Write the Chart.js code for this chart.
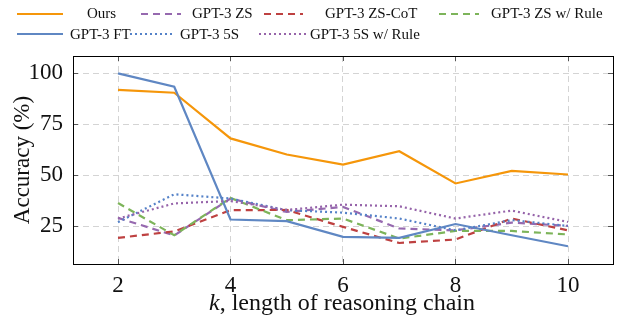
<!DOCTYPE html>
<html>
<head>
<meta charset="utf-8">
<script src="https://cdn.jsdelivr.net/npm/chart.js@4.4.1/dist/chart.umd.min.js"></script>
<style>
  body { margin: 0; background: #fff; }
  #wrap { position: relative; width: 617px; height: 320px; }
  #legend { position: absolute; left: 0; top: 0; width: 617px; height: 50px;
            font-family: "Liberation Serif", "Times New Roman", serif; font-size: 15px; color: #111; }
  .lg { position: absolute; white-space: nowrap; line-height: 1; }
  #xtitle { position: absolute; left: 142px; width: 400px; top: 290px; text-align: center;
            font-family: "Liberation Serif", "Times New Roman", serif; font-size: 24px; line-height: 1; color: #111; }
</style>
</head>
<body>
<div id="wrap">
  <canvas id="chart" width="617" height="320"></canvas>
  <div id="legend"></div>
  <div id="xtitle"><i>k</i>, length of reasoning chain</div>
</div>
<script>
// k, length of reasoning chain
const kValues = [2, 3, 4, 5, 6, 7, 8, 9, 10];

// accuracy (%)
const ours      = [91.9, 90.5, 68.1, 60.2, 55.2, 61.8, 46.0, 52.2, 50.4];
const gpt3ZS    = [29.1, 20.5, 38.6, 32.0, 34.5, 23.9, 23.0, 26.8, 25.2];
const gpt3ZSCoT = [19.3, 22.5, 32.9, 33.0, 24.7, 16.8, 18.5, 28.8, 23.0];
const gpt3ZSRule = [36.4, 20.6, 38.9, 28.0, 28.8, 19.0, 22.7, 22.7, 21.0];
const gpt3FT    = [100, 93.4, 28.3, 27.5, 19.8, 19.3, 26.1, 20.6, 15.2];
const gpt3FiveS = [27.0, 40.7, 38.6, 32.9, 31.7, 28.8, 23.0, 28.0, 25.2];
const gpt3FiveSRule = [28.8, 36.2, 37.4, 33.0, 35.6, 34.8, 28.8, 32.7, 27.1];

const xTicks = [2, 4, 6, 8, 10];
const yTicks = [25, 50, 75, 100];

const serif = "'Liberation Serif', 'Times New Roman', serif";
const DASHED = [7, 5];
const DOTTED = [2, 3];

const series = [
  { label: "Ours", data: ours, color: "rgb(245,150,10)", dash: [] },
  { label: "GPT-3 ZS", data: gpt3ZS, color: "rgb(150,105,175)", dash: DASHED },
  { label: "GPT-3 ZS-CoT", data: gpt3ZSCoT, color: "rgb(190,65,65)", dash: DASHED },
  { label: "GPT-3 ZS w/ Rule", data: gpt3ZSRule, color: "rgb(125,180,90)", dash: DASHED },
  { label: "GPT-3 FT", data: gpt3FT, color: "rgb(95,135,195)", dash: [] },
  { label: "GPT-3 5S", data: gpt3FiveS, color: "rgb(85,130,200)", dash: DOTTED },
  { label: "GPT-3 5S w/ Rule", data: gpt3FiveSRule, color: "rgb(150,100,170)", dash: DOTTED },
];

// legend placement: [center y, sample left, sample right, text left]
const legendPos = [
  [13.5, 17, 63, 87],
  [13.5, 141, 181, 192],
  [13.5, 264, 303, 325],
  [13.5, 439, 479, 491],
  [34, 17, 63, 70],
  [34, 130, 173, 180],
  [34, 259, 306, 310],
];

const legendEl = document.getElementById("legend");
series.forEach((s, i) => {
  const [cy, x0, x1, tx] = legendPos[i];
  const svg = document.createElementNS("http://www.w3.org/2000/svg", "svg");
  svg.setAttribute("width", x1 - x0);
  svg.setAttribute("height", 6);
  svg.style.position = "absolute";
  svg.style.left = x0 + "px";
  svg.style.top = (cy - 3) + "px";
  const ln = document.createElementNS("http://www.w3.org/2000/svg", "line");
  ln.setAttribute("x1", 0); ln.setAttribute("x2", x1 - x0);
  ln.setAttribute("y1", 3); ln.setAttribute("y2", 3);
  ln.setAttribute("stroke", s.color);
  ln.setAttribute("stroke-width", 2.2);
  if (s.dash.length) ln.setAttribute("stroke-dasharray", s.dash.join(" "));
  svg.appendChild(ln);
  legendEl.appendChild(svg);
  const t = document.createElement("span");
  t.className = "lg";
  t.textContent = s.label;
  t.style.left = tx + "px";
  t.style.top = (cy - 7.5) + "px";
  legendEl.appendChild(t);
});

// box round the plot plus short inward tick marks on all four sides
const frame = {
  id: "frame",
  afterDraw(chart) {
    const { ctx, chartArea: a, scales } = chart;
    ctx.save();
    ctx.strokeStyle = "#555";
    ctx.lineWidth = 1;
    ctx.beginPath();
    xTicks.forEach((v) => {
      const px = Math.round(scales.x.getPixelForValue(v)) + 0.5;
      ctx.moveTo(px, a.top); ctx.lineTo(px, a.top + 5);
      ctx.moveTo(px, a.bottom); ctx.lineTo(px, a.bottom - 5);
    });
    yTicks.forEach((v) => {
      const py = Math.round(scales.y.getPixelForValue(v)) + 0.5;
      ctx.moveTo(a.left, py); ctx.lineTo(a.left + 5, py);
      ctx.moveTo(a.right, py); ctx.lineTo(a.right - 5, py);
    });
    ctx.stroke();
    ctx.strokeStyle = "#000";
    ctx.strokeRect(Math.round(a.left) + 0.5, Math.round(a.top) + 0.5,
                   Math.round(a.right - a.left), Math.round(a.bottom - a.top));
    ctx.restore();
  },
};

new Chart(document.getElementById("chart").getContext("2d"), {
  type: "line",
  data: {
    datasets: series.map((s, i) => ({
      label: s.label,
      data: kValues.map((k, j) => ({ x: k, y: s.data[j] })),
      borderColor: s.color,
      backgroundColor: s.color,
      borderDash: s.dash,
      borderWidth: 2.2,
      pointRadius: 0,
      tension: 0,
      order: series.length - i,
    })),
  },
  options: {
    responsive: false,
    animation: false,
    layout: { padding: { top: 56, right: 4, left: 0, bottom: 0 } },
    plugins: { legend: { display: false }, tooltip: { enabled: false } },
    scales: {
      x: {
        type: "linear",
        min: 1.2,
        max: 10.8,
        afterBuildTicks: (s) => { s.ticks = xTicks.map((v) => ({ value: v })); },
        afterFit: (s) => { s.height = 56; },
        grid: { color: "#d4d4d4", drawTicks: false },
        border: { display: false, dash: [6, 4] },
        ticks: { padding: 8, color: "#111", font: { family: serif, size: 23 } },
        title: { display: false },
      },
      y: {
        min: 6.5,
        max: 108.5,
        afterBuildTicks: (s) => { s.ticks = yTicks.map((v) => ({ value: v })); },
        afterFit: (s) => { s.width = 73; },
        grid: { color: "#d4d4d4", drawTicks: false },
        border: { display: false, dash: [6, 4] },
        ticks: { padding: 10, color: "#111", font: { family: serif, size: 23 } },
        title: {
          display: true,
          text: "Accuracy (%)",
          color: "#111",
          font: { family: serif, size: 23, lineHeight: 1 },
          padding: { top: 11, bottom: 0 },
        },
      },
    },
  },
  plugins: [frame],
});
</script>
</body>
</html>
